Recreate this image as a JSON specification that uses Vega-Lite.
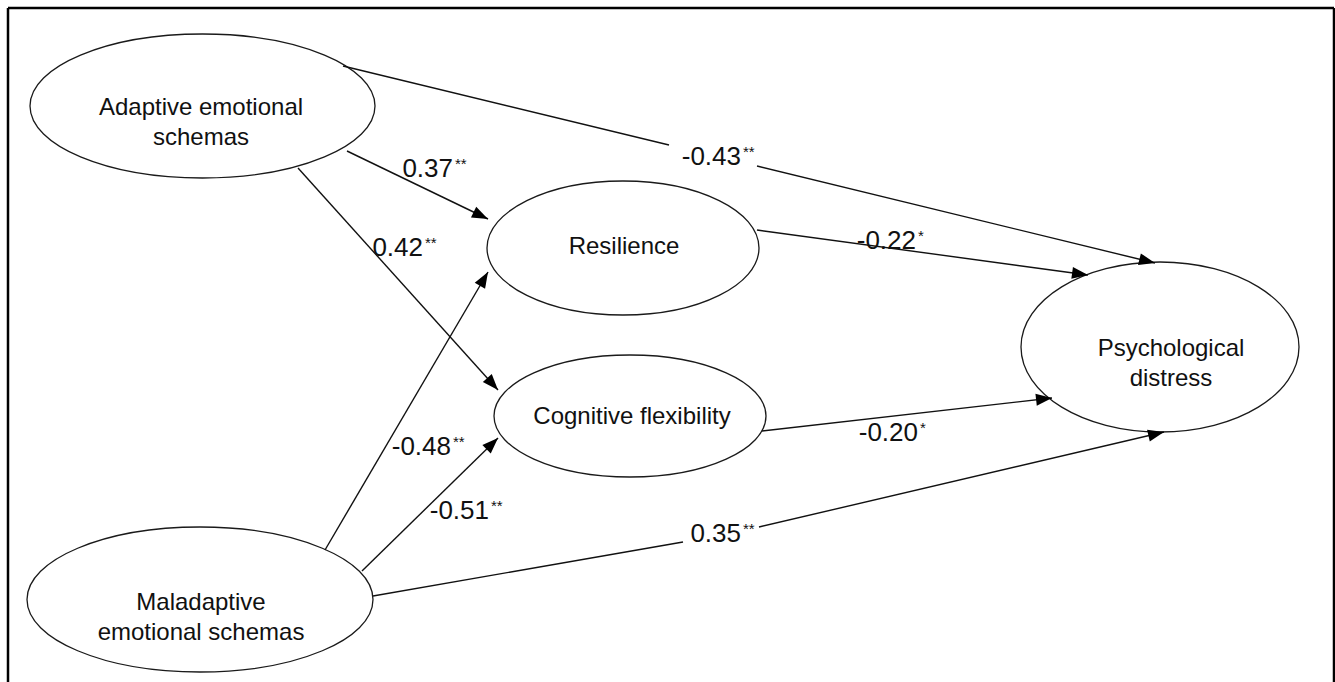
{
  "$schema": "https://vega.github.io/schema/vega-lite/v6.json",
  "width": 1335,
  "height": 682,
  "padding": 0,
  "autosize": {"type": "none"},
  "background": "white",
  "config": {"view": {"stroke": null}},
  "datasets": {
    "frame": [
      {"x": 8, "y": 8, "x2": 1334, "y2": 8},
      {"x": 8, "y": 8, "x2": 8, "y2": 682},
      {"x": 1334, "y": 8, "x2": 1334, "y2": 682}
    ],
    "nodes": [
      {"name": "Adaptive", "x": 202.5, "y": 106, "lx": 201, "ly": 108, "label": "Adaptive emotional\nschemas"},
      {"name": "Maladaptive", "x": 200, "y": 599.5, "lx": 201, "ly": 603, "label": "Maladaptive\nemotional schemas"},
      {"name": "Resilience", "x": 623, "y": 248, "lx": 624, "ly": 247, "label": "Resilience"},
      {"name": "Cognitive", "x": 630, "y": 416, "lx": 632, "ly": 417, "label": "Cognitive flexibility"},
      {"name": "Psych", "x": 1160, "y": 347, "lx": 1171, "ly": 349, "label": "Psychological\ndistress"}
    ],
    "edges": [
      {"x": 343, "y": 66, "x2": 669, "y2": 145},
      {"x": 757, "y": 166, "x2": 1155, "y2": 263},
      {"x": 757, "y": 230, "x2": 1088, "y2": 275},
      {"x": 762, "y": 431, "x2": 1052, "y2": 398},
      {"x": 373, "y": 596, "x2": 683, "y2": 542},
      {"x": 759, "y": 527, "x2": 1164, "y2": 432},
      {"x": 347, "y": 151, "x2": 488, "y2": 219},
      {"x": 298, "y": 168, "x2": 498, "y2": 390},
      {"x": 325, "y": 550, "x2": 488, "y2": 272},
      {"x": 362, "y": 571, "x2": 498, "y2": 438}
    ],
    "heads": [
      {"x": 1155, "y": 263, "angle": 103.7},
      {"x": 1088, "y": 275, "angle": 97.7},
      {"x": 1052, "y": 398, "angle": 83.5},
      {"x": 1164, "y": 432, "angle": 76.8},
      {"x": 488, "y": 219, "angle": 115.8},
      {"x": 498, "y": 390, "angle": 138.0},
      {"x": 488, "y": 272, "angle": 30.4},
      {"x": 498, "y": 438, "angle": 45.6}
    ],
    "coefs": [
      {"x": 453, "y": 169, "num": "0.37", "stars": "**"},
      {"x": 423, "y": 248, "num": "0.42", "stars": "**"},
      {"x": 741, "y": 157, "num": "-0.43", "stars": "**"},
      {"x": 916, "y": 241, "num": "-0.22", "stars": "*"},
      {"x": 451, "y": 447, "num": "-0.48", "stars": "**"},
      {"x": 489, "y": 511, "num": "-0.51", "stars": "**"},
      {"x": 918, "y": 433, "num": "-0.20", "stars": "*"},
      {"x": 741, "y": 533.5, "num": "0.35", "stars": "**"}
    ]
  },
  "encoding": {
    "x": {"field": "x", "type": "quantitative", "axis": null, "scale": {"domain": [0, 1335], "nice": false, "zero": false}},
    "y": {"field": "y", "type": "quantitative", "axis": null, "scale": {"domain": [0, 682], "nice": false, "zero": false, "reverse": true}}
  },
  "layer": [
    {
      "data": {"name": "frame"},
      "mark": {"type": "rule", "stroke": "#000000", "strokeWidth": 2.5},
      "encoding": {"x2": {"field": "x2"}, "y2": {"field": "y2"}}
    },
    {
      "data": {"name": "nodes"},
      "mark": {"type": "point", "filled": true, "fill": "white", "stroke": "#1a1a1a", "strokeWidth": 1.3, "opacity": 1, "size": 4},
      "encoding": {
        "shape": {
          "field": "name", "type": "nominal", "legend": null,
          "scale": {
            "domain": ["Adaptive", "Maladaptive", "Resilience", "Cognitive", "Psych"],
            "range": [
              "M-172.5,0A172.5,72,0,1,0,172.5,0A172.5,72,0,1,0,-172.5,0Z",
              "M-173,0A173,72.5,0,1,0,173,0A173,72.5,0,1,0,-173,0Z",
              "M-136,0A136,67,0,1,0,136,0A136,67,0,1,0,-136,0Z",
              "M-136,0A136,61,0,1,0,136,0A136,61,0,1,0,-136,0Z",
              "M-139,0A139,85,0,1,0,139,0A139,85,0,1,0,-139,0Z"
            ]
          }
        }
      }
    },
    {
      "data": {"name": "edges"},
      "mark": {"type": "rule", "stroke": "#111111", "strokeWidth": 1.4},
      "encoding": {"x2": {"field": "x2"}, "y2": {"field": "y2"}}
    },
    {
      "data": {"name": "heads"},
      "mark": {"type": "point", "shape": "M0,0L-6,16L6,16Z", "size": 4, "filled": true, "fill": "#000000", "strokeWidth": 0, "opacity": 1},
      "encoding": {"angle": {"field": "angle", "type": "quantitative", "scale": null}}
    },
    {
      "data": {"name": "nodes"},
      "mark": {"type": "text", "font": "Liberation Sans", "fontSize": 24, "lineHeight": 30, "lineBreak": "\n", "align": "center", "baseline": "middle", "fill": "#111111"},
      "encoding": {
        "x": {"field": "lx", "type": "quantitative", "axis": null},
        "y": {"field": "ly", "type": "quantitative", "axis": null},
        "text": {"field": "label", "type": "nominal"}
      }
    },
    {
      "data": {"name": "coefs"},
      "mark": {"type": "text", "font": "Liberation Sans", "fontSize": 26, "align": "right", "baseline": "middle", "fill": "#111111"},
      "encoding": {"text": {"field": "num", "type": "nominal"}}
    },
    {
      "data": {"name": "coefs"},
      "mark": {"type": "text", "font": "Liberation Sans", "fontSize": 15, "align": "left", "baseline": "middle", "dx": 2, "dy": -5, "fill": "#111111"},
      "encoding": {"text": {"field": "stars", "type": "nominal"}}
    }
  ]
}
